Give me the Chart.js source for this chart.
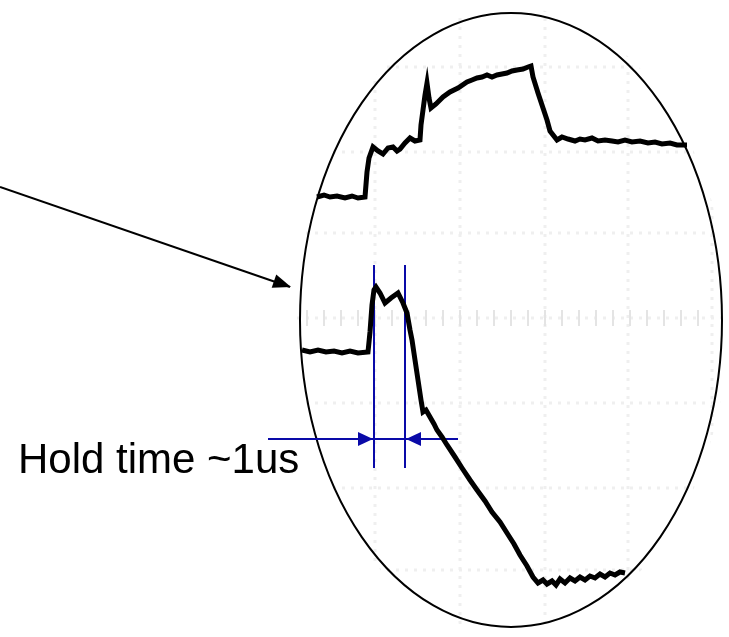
<!DOCTYPE html>
<html>
<head>
<meta charset="utf-8">
<script src="https://cdn.jsdelivr.net/npm/chart.js@4"></script>
<style>
  html, body { margin: 0; padding: 0; background: #fff; }
  #wrap { width: 729px; height: 637px; }
</style>
</head>
<body>
<div id="wrap"><canvas id="myChart" width="729" height="637"></canvas></div>
<script>
// screen units, y grows downward (like the photo of the scope)
const topTrace = [
  [317,197],[324,195],[330,197],[337,196],[345,198],[352,196],[358,198],[365,197],
  [367,172],[369,158],[373,147],[378,151],[383,154],[388,148],[393,147],[397,151],
  [400,149],[405,143],[410,138],[415,141],[420,140],[421,125],[423,110],[425,95],
  [427,83],[429,98],[431,108],[436,104],[443,97],[450,92],[458,88],[467,82],
  [472,80],[477,78],[482,77],[487,75],[492,77],[497,75],[502,74],[507,73],
  [512,71],[517,70],[523,69],[528,67],[531,66],[533,77],[538,93],[543,108],
  [547,120],[550,131],[557,140],[562,137],[568,139],[575,141],[580,139],[585,140],
  [592,138],[598,141],[605,140],[612,141],[618,142],[625,140],[632,142],[640,141],
  [648,143],[655,142],[662,144],[670,143],[677,145],[687,145]
];
const bottomTrace = [
  [302,350],[310,352],[318,350],[326,352],[334,351],[342,353],[350,351],[358,353],
  [368,352],[370,332],[372,305],[374,290],[376,287],[380,293],[385,303],[391,298],
  [398,293],[403,303],[407,313],[410,330],[412,340],[415,360],[418,380],[421,400],
  [423,412],[426,410],[430,417],[434,424],[437,430],[442,437],[447,445],[455,457],
  [462,468],[470,480],[477,490],[485,501],[492,512],[500,522],[507,533],[514,544],
  [520,555],[527,566],[533,577],[538,583],[543,580],[547,584],[552,581],[556,585],
  [560,579],[565,583],[570,578],[575,581],[580,577],[585,580],[590,576],[595,578],
  [600,574],[605,577],[610,573],[615,575],[620,572],[625,573]
];
const holdLeft = [[374,265],[374,468]];
const holdRight = [[405,265],[405,468]];
const holdArrow = [[268,439],[458,439]];
const pointerArrow = [[0,187],[290,287]];
// arrow heads: tip and the point the shaft comes from
const arrowHeads = [
  { tip: [373,439], from: [268,439], color: '#0a0aa8', len: 15, half: 7 },
  { tip: [406,439], from: [458,439], color: '#0a0aa8', len: 15, half: 7 },
  { tip: [291,287], from: [0,187], color: '#000', len: 18, half: 7 }
];
// scope face
const screenCenter = [511, 320];
const screenRadius = [211, 307];
const gridCols = [290, 375, 460, 545, 628, 712];
const gridRows = [67, 152, 233, 318, 403, 488, 570];
const labelText = 'Hold time ~1us';
const labelPos = [18, 473];

const toXY = arr => arr.map(p => ({ x: p[0], y: p[1] }));

const scopePlugin = {
  id: 'scope',
  beforeDatasetsDraw(chart) {
    const ctx = chart.ctx;
    const xs = chart.scales.x, ys = chart.scales.y;
    const cx = xs.getPixelForValue(screenCenter[0]);
    const cy = ys.getPixelForValue(screenCenter[1]);
    const rx = Math.abs(xs.getPixelForValue(screenCenter[0] + screenRadius[0]) - cx);
    const ry = Math.abs(ys.getPixelForValue(screenCenter[1] + screenRadius[1]) - cy);
    ctx.save();
    ctx.beginPath();
    ctx.ellipse(cx, cy, rx + 6, ry + 6, 0, 0, Math.PI * 2);
    ctx.clip();
    // faint graticule
    ctx.strokeStyle = '#efefef';
    ctx.lineWidth = 3;
    ctx.setLineDash([3, 6]);
    gridCols.forEach(v => {
      const px = xs.getPixelForValue(v);
      ctx.beginPath(); ctx.moveTo(px, 0); ctx.lineTo(px, chart.height); ctx.stroke();
    });
    gridRows.forEach(v => {
      const py = ys.getPixelForValue(v);
      ctx.beginPath(); ctx.moveTo(0, py); ctx.lineTo(chart.width, py); ctx.stroke();
    });
    // minor ticks on the centre row
    ctx.setLineDash([]);
    ctx.strokeStyle = '#e4e4e4';
    ctx.lineWidth = 2;
    const rowY = ys.getPixelForValue(gridRows[3]);
    for (let v = gridCols[0]; v <= gridCols[gridCols.length - 1]; v += 17) {
      const px = xs.getPixelForValue(v);
      ctx.beginPath(); ctx.moveTo(px, rowY - 8); ctx.lineTo(px, rowY + 8); ctx.stroke();
    }
    ctx.restore();

    ctx.save();
    ctx.strokeStyle = '#000';
    ctx.lineWidth = 2;
    ctx.beginPath();
    ctx.ellipse(cx, cy, rx, ry, 0, 0, Math.PI * 2);
    ctx.stroke();
    ctx.restore();
  },
  afterDatasetsDraw(chart) {
    const ctx = chart.ctx;
    const xs = chart.scales.x, ys = chart.scales.y;
    arrowHeads.forEach(a => {
      const tx = xs.getPixelForValue(a.tip[0]), ty = ys.getPixelForValue(a.tip[1]);
      const fx = xs.getPixelForValue(a.from[0]), fy = ys.getPixelForValue(a.from[1]);
      const ang = Math.atan2(ty - fy, tx - fx);
      const bx = tx - a.len * Math.cos(ang), by = ty - a.len * Math.sin(ang);
      ctx.save();
      ctx.fillStyle = a.color;
      ctx.beginPath();
      ctx.moveTo(tx, ty);
      ctx.lineTo(bx - a.half * Math.sin(ang), by + a.half * Math.cos(ang));
      ctx.lineTo(bx + a.half * Math.sin(ang), by - a.half * Math.cos(ang));
      ctx.closePath();
      ctx.fill();
      ctx.restore();
    });
    ctx.save();
    ctx.fillStyle = '#000';
    ctx.font = '42px "Liberation Sans", Arial, sans-serif';
    ctx.textBaseline = 'alphabetic';
    ctx.fillText(labelText, xs.getPixelForValue(labelPos[0]), ys.getPixelForValue(labelPos[1]));
    ctx.restore();
  }
};

const lineSet = (data, color, width) => ({
  data: toXY(data),
  borderColor: color,
  backgroundColor: color,
  borderWidth: width,
  pointRadius: 0,
  showLine: true,
  tension: 0,
  fill: false
});

const ctx = document.getElementById('myChart').getContext('2d');
const scopeChart = new Chart(ctx, {
  type: 'scatter',
  data: {
    datasets: [
      lineSet(topTrace, '#000', 5),
      lineSet(bottomTrace, '#000', 5),
      lineSet(holdLeft, '#0a0aa8', 2),
      lineSet(holdRight, '#0a0aa8', 2),
      lineSet(holdArrow, '#0a0aa8', 2),
      lineSet(pointerArrow, '#000', 2)
    ]
  },
  options: {
    responsive: false,
    animation: false,
    layout: { padding: 0 },
    plugins: { legend: { display: false }, tooltip: { enabled: false } },
    scales: {
      x: { type: 'linear', min: 0, max: 729, display: false },
      y: { type: 'linear', min: 0, max: 637, reverse: true, display: false }
    }
  },
  plugins: [scopePlugin]
});
</script>
</body>
</html>
